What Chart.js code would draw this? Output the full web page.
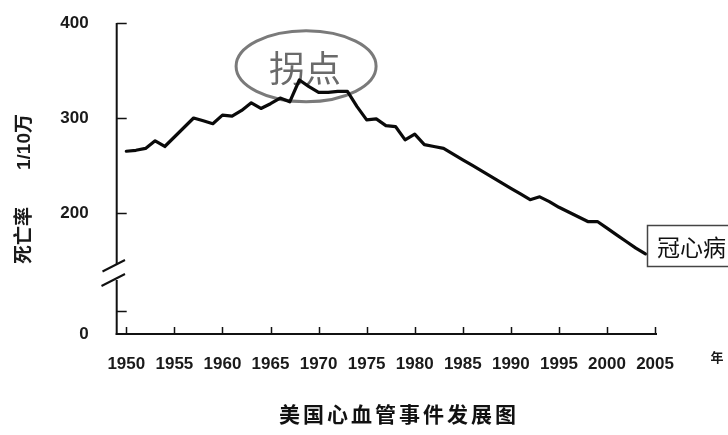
<!DOCTYPE html>
<html><head><meta charset="utf-8">
<script src="https://cdn.jsdelivr.net/npm/chart.js@4/dist/chart.umd.min.js"></script>
<style>html,body{margin:0;padding:0;background:#fff}#wrap{width:728px;height:435px}</style>
</head><body><div id="wrap"><canvas id="c" width="728" height="435"></canvas></div>
<script>
const years = [1950,1951,1952,1953,1954,1955,1956,1957,1958,1959,1960,1961,1962,1963,1964,1965,1966,1967,1968,1969,1970,1971,1972,1973,1974,1975,1976,1977,1978,1979,1980,1981,1982,1983,1984,1985,1986,1987,1988,1989,1990,1991,1992,1993,1994,1995,1996,1997,1998,1999,2000,2001,2002,2003,2004];
const deathRate = [265,266,268,276,270,280,290,300,297,294,303,302,308,316,310,315,321,317,340,333,327,327,328,328,312,298,299,292,291,277,283,272,270,268,262,256,250,244,238,232,226,220,214,217,212,206,201,196,191,191,184,177,170,163,157];
const xTickValues = [1950,1955,1960,1965,1970,1975,1980,1985,1990,1995,2000,2005];
const yTickValues = [72.6, 97, 200, 300, 400];
const yTickLabels = ['0', '', '200', '300', '400'];
const yAxisTitle = '死亡率       1/10万';
const xAxisUnit = '年';
const peakLabel = '拐点';
const seriesLabel = '冠心病';
const chartTitle = '美国心血管事件发展图';

const LAT = "'Liberation Sans', 'Noto Sans CJK SC', sans-serif";
const CJK = "'Noto Sans CJK SC', sans-serif";

const decor = {
  id: 'decor',
  beforeDatasetsDraw(chart) {
    const ctx = chart.ctx, xs = chart.scales.x, ys = chart.scales.y;
    const cx = xs.getPixelForValue(1968.7), cy = ys.getPixelForValue(354.5);
    ctx.save();
    ctx.beginPath();
    ctx.ellipse(cx, cy, 70, 35.5, 0, 0, Math.PI * 2);
    ctx.lineWidth = 3;
    ctx.strokeStyle = '#7a7a7a';
    ctx.stroke();
    ctx.fillStyle = '#6a6a6a';
    ctx.font = "36px " + CJK;
    ctx.textAlign = 'center';
    ctx.textBaseline = 'middle';
    ctx.fillText(peakLabel, cx - 1, cy + 2);
    ctx.restore();
  },
  afterDraw(chart) {
    const ctx = chart.ctx, xs = chart.scales.x, ys = chart.scales.y;
    const a = chart.chartArea;
    const ax = a.left, bottom = a.bottom;
    ctx.save();
    ctx.strokeStyle = '#111';
    ctx.lineWidth = 2;
    ctx.lineCap = 'butt';
    const yTop = ys.getPixelForValue(400);
    ctx.beginPath();
    ctx.moveTo(ax, yTop); ctx.lineTo(ax, 264);
    ctx.moveTo(ax, 280); ctx.lineTo(ax, bottom + 1);
    ctx.stroke();
    ctx.beginPath();
    ctx.moveTo(102.5, 271.5); ctx.lineTo(125, 260);
    ctx.moveTo(101.5, 286); ctx.lineTo(125, 274);
    ctx.stroke();
    ctx.beginPath();
    ctx.moveTo(ax - 1, bottom); ctx.lineTo(a.right, bottom);
    ctx.stroke();
    ctx.lineWidth = 1.5;
    ctx.beginPath();
    yTickValues.forEach((v, i) => {
      if (i === 0) return;
      const py = Math.round(ys.getPixelForValue(v)) + 0.5;
      ctx.moveTo(ax, py); ctx.lineTo(ax + 10, py);
    });
    xTickValues.forEach(v => {
      const px = Math.round(xs.getPixelForValue(v)) + 0.5;
      ctx.moveTo(px, bottom); ctx.lineTo(px, bottom - 7);
    });
    ctx.stroke();
    ctx.save();
    ctx.translate(25, 189);
    ctx.rotate(-Math.PI / 2);
    ctx.fillStyle = '#1a1a1a';
    ctx.font = "bold 19px " + LAT;
    ctx.textAlign = 'center';
    ctx.textBaseline = 'middle';
    ctx.fillText(yAxisTitle, 0, 0);
    ctx.restore();
    ctx.fillStyle = '#1a1a1a';
    ctx.font = "bold 13px " + CJK;
    ctx.textAlign = 'center';
    ctx.textBaseline = 'middle';
    ctx.fillText(xAxisUnit, 717, 357);
    ctx.strokeStyle = '#444';
    ctx.lineWidth = 1.5;
    ctx.strokeRect(647.5, 225.5, 100, 41);
    ctx.fillStyle = '#111';
    ctx.font = "23px " + CJK;
    ctx.textAlign = 'left';
    ctx.fillText(seriesLabel, 657, 247);
    ctx.font = "bold 21px " + CJK;
    ctx.textAlign = 'center';
    ctx.letterSpacing = '3px';
    ctx.fillText(chartTitle, 399, 414);
    ctx.restore();
  }
};

new Chart(document.getElementById('c'), {
  type: 'line',
  data: {
    datasets: [{
      label: seriesLabel,
      data: years.map((yr, i) => ({ x: yr, y: deathRate[i] })),
      borderColor: '#0a0a0a',
      borderWidth: 3.2,
      pointRadius: 0,
      tension: 0,
      borderJoinStyle: 'round',
      borderCapStyle: 'round',
      fill: false
    }]
  },
  options: {
    responsive: false,
    devicePixelRatio: 1,
    animation: false,
    layout: { padding: { top: 23, right: 71, bottom: 0, left: 0 } },
    plugins: { legend: { display: false }, tooltip: { enabled: false }, title: { display: false } },
    scales: {
      x: {
        type: 'linear', min: 1949, max: 2005.2,
        afterBuildTicks: s => { s.ticks = xTickValues.map(v => ({ value: v })); },
        afterFit: s => { s.height = 101; s.paddingLeft = 0; s.paddingRight = 0; },
        grid: { display: false, drawTicks: false },
        border: { display: false },
        ticks: { callback: v => String(v), font: { size: 17, family: LAT, weight: 'bold' }, color: '#1a1a1a', padding: 20, maxRotation: 0, autoSkip: false }
      },
      y: {
        type: 'linear', min: 72.6, max: 400,
        afterBuildTicks: s => { s.ticks = yTickValues.map(v => ({ value: v })); },
        afterFit: s => { s.width = 116.7; s.paddingTop = 0; s.paddingBottom = 0; },
        grid: { display: false, drawTicks: false },
        border: { display: false },
        ticks: { callback: (v, i) => yTickLabels[i], font: { size: 17, family: LAT, weight: 'bold' }, color: '#1a1a1a', padding: 28, autoSkip: false }
      }
    }
  },
  plugins: [decor]
});
</script>
</body></html>
